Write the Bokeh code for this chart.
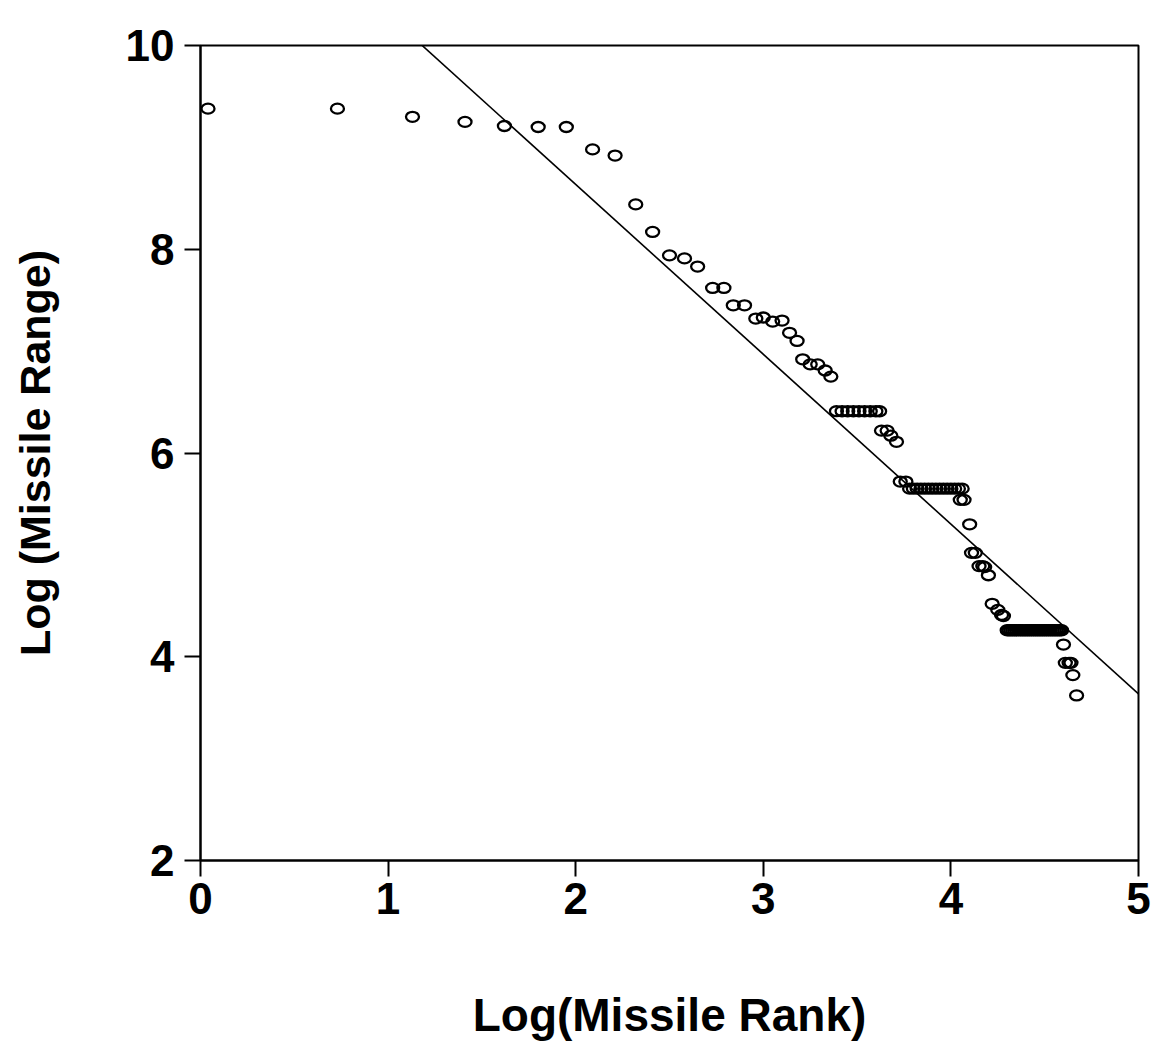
from bokeh.plotting import figure
from bokeh.models import ColumnDataSource, FixedTicker, Range1d
from bokeh.embed import file_html
from bokeh.resources import INLINE

# --- data ---
log_rank = [
    0.04, 0.73, 1.13, 1.41, 1.62, 1.80, 1.95, 2.09, 2.21, 2.32, 2.41, 2.50,
    2.58, 2.65, 2.73, 2.79, 2.84, 2.90, 2.96, 3.00, 3.05, 3.10, 3.14, 3.18,
    3.21, 3.25, 3.29, 3.33, 3.36,
    3.39, 3.42, 3.45, 3.48, 3.51, 3.54, 3.57, 3.60, 3.62,
    3.63, 3.66, 3.68, 3.71,
    3.73, 3.76,
    3.78, 3.80, 3.82, 3.84, 3.86, 3.88, 3.90, 3.92, 3.94, 3.96, 3.98, 4.00,
    4.02, 4.04, 4.06,
    4.05, 4.07,
    4.10,
    4.11, 4.13,
    4.15, 4.17, 4.18,
    4.20,
    4.22, 4.25, 4.27, 4.28,
    4.30, 4.31, 4.32, 4.33, 4.34, 4.35, 4.36, 4.37, 4.38, 4.39, 4.40, 4.41,
    4.42, 4.43, 4.44, 4.45, 4.46, 4.47, 4.48, 4.49, 4.50, 4.51, 4.52, 4.53,
    4.54, 4.55, 4.56, 4.57, 4.58, 4.59,
    4.60,
    4.61, 4.63, 4.64,
    4.65,
    4.67,
]
log_range = [
    9.38, 9.38, 9.30, 9.25, 9.21, 9.20, 9.20, 8.98, 8.92, 8.44, 8.17, 7.94,
    7.91, 7.83, 7.62, 7.62, 7.45, 7.45, 7.32, 7.33, 7.29, 7.30, 7.18, 7.10,
    6.92, 6.87, 6.87, 6.81, 6.75,
    6.41, 6.41, 6.41, 6.41, 6.41, 6.41, 6.41, 6.41, 6.41,
    6.22, 6.22, 6.17, 6.11,
    5.72, 5.72,
    5.65, 5.65, 5.65, 5.65, 5.65, 5.65, 5.65, 5.65, 5.65, 5.65, 5.65, 5.65,
    5.65, 5.65, 5.65,
    5.54, 5.54,
    5.30,
    5.02, 5.02,
    4.89, 4.89, 4.88,
    4.80,
    4.52, 4.46, 4.41, 4.40,
    4.26, 4.26, 4.26, 4.26, 4.26, 4.26, 4.26, 4.26, 4.26, 4.26, 4.26, 4.26,
    4.26, 4.26, 4.26, 4.26, 4.26, 4.26, 4.26, 4.26, 4.26, 4.26, 4.26, 4.26,
    4.26, 4.26, 4.26, 4.26, 4.26, 4.26,
    4.12,
    3.94, 3.94, 3.94,
    3.82,
    3.62,
]

# fitted regression line  log_range = fit_intercept + fit_slope * log_rank
fit_intercept = 11.97
fit_slope = -1.667
fit_x = [0.0, 5.0]
fit_y = [fit_intercept + fit_slope * v for v in fit_x]

x_ticks = [0, 1, 2, 3, 4, 5]
y_ticks = [2, 4, 6, 8, 10]

FONT = "Liberation Sans"

p = figure(
    width=1158, height=1054,
    output_backend="svg", toolbar_location=None,
    x_range=Range1d(0, 5), y_range=Range1d(2, 10),
    min_border_left=200, min_border_right=20,
    min_border_top=45, min_border_bottom=194,
)
p.background_fill_color = "white"
p.border_fill_color = "white"
p.outline_line_color = "black"
p.outline_line_width = 2
p.grid.visible = False

src = ColumnDataSource(dict(x=log_rank, y=log_range))
p.line(fit_x, fit_y, line_color="black", line_width=1.6)
p.ellipse(x="x", y="y", width=13, height=10, width_units="screen",
          height_units="screen", source=src, fill_color=None,
          line_color="black", line_width=2.3)

for ax in (p.xaxis[0], p.yaxis[0]):
    ax.axis_line_color = "black"
    ax.axis_line_width = 2
    ax.major_tick_line_color = "black"
    ax.major_tick_line_width = 2
    ax.major_tick_out = 16
    ax.major_tick_in = 0
    ax.minor_tick_line_color = None
    ax.major_label_text_font = FONT
    ax.major_label_text_font_style = "bold"
    ax.major_label_text_font_size = "44px"
    ax.major_label_text_color = "black"
    ax.axis_label_text_font = FONT
    ax.axis_label_text_font_style = "bold"
    ax.axis_label_text_color = "black"

p.xaxis.axis_label_text_font_size = "46px"
p.yaxis.axis_label_text_font_size = "43px"
p.xaxis.ticker = FixedTicker(ticks=x_ticks)
p.yaxis.ticker = FixedTicker(ticks=y_ticks)
p.xaxis.axis_label = "Log(Missile Rank)"
p.yaxis.axis_label = "Log (Missile Range)"
p.xaxis.major_label_standoff = 6
p.yaxis.major_label_standoff = 10
p.xaxis.axis_label_standoff = 72
p.yaxis.axis_label_standoff = 64

open("out.html", "w").write(file_html(p, INLINE))
